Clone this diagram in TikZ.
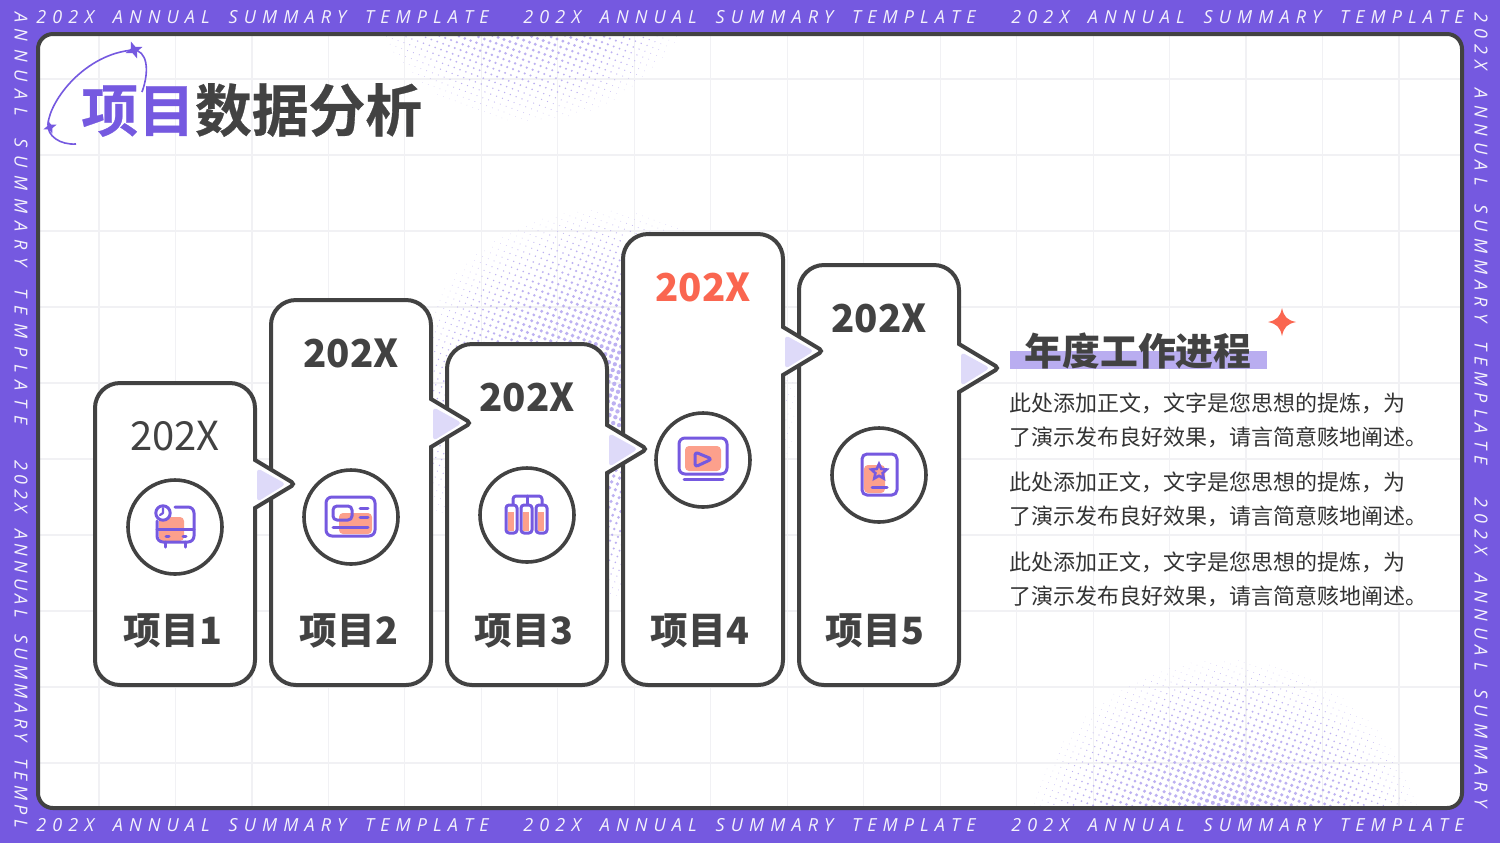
\documentclass[tikz,border=0pt]{standalone}
\usepackage{fontspec}
\usetikzlibrary{shapes.geometric}
\setmainfont{Noto Sans CJK SC}
\newfontfamily\bandfont[LetterSpace=34,WordSpace=1.75]{Open Sans}
\newfontfamily\bandwidefont[LetterSpace=44,WordSpace=1.75]{Open Sans}
\newfontfamily\bandtightfont[LetterSpace=25,WordSpace=1.75]{Open Sans}
\newfontfamily\headfont[UprightFont={* Bold},UprightFeatures={FakeBold=0.5}]{Noto Sans CJK SC}
\definecolor{bandpurple}{HTML}{7559E0}
\definecolor{inkgray}{HTML}{424242}
\definecolor{gridgray}{HTML}{F1F1F4}
\definecolor{dotpurple}{HTML}{BDB1F1}
\definecolor{tailpurple}{HTML}{DEDAF9}
\definecolor{barpurple}{HTML}{B9ADF0}
\definecolor{salmon}{HTML}{FCA08C}
\definecolor{accentred}{HTML}{FA6650}
\tikzset{
    cardbox/.style={draw=inkgray,fill=white,line width=2pt},
    iconring/.style={draw=inkgray,fill=white,line width=1.8pt,circle,minimum size=47pt,inner sep=0pt},
    iconline/.style={draw=bandpurple,line width=1.5pt,line cap=round,line join=round},
    iconfill/.style={fill=salmon,rounded corners=2pt},
    yearlabel/.style={font=\fontsize{19.2}{24}\bfseries,text=inkgray,inner sep=0pt},
    itemlabel/.style={font=\fontsize{18.8}{24}\bfseries,text=inkgray,inner sep=0pt},
    bodytext/.style={font=\fontsize{11}{17}\selectfont,text=black!80,align=left,anchor=west,inner sep=0pt},
    bandtext/.style={font=\bandfont\itshape\fontsize{9}{10}\selectfont,text=white!92!bandpurple,inner sep=0pt,anchor=west},
    bandwide/.style={bandtext,font=\bandwidefont\itshape\fontsize{9}{10}\selectfont},
    bandtight/.style={bandtext,font=\bandtightfont\itshape\fontsize{9}{10}\selectfont},
}
% one card with its tail: left, right, top, tip height
\newcommand{\card}[4]{
    \draw [cardbox] (#2,#4+24) [rounded corners=12.5pt] -- (#2,685) -- (#1,685) -- (#1,#3) -- (#2,#3) [sharp corners] -- (#2,#4-24) [rounded corners=2pt] -- (#2+40,#4) [sharp corners] -- (#2,#4+24) -- cycle;
    \fill [tailpurple,rounded corners=2pt] (#2+2,#4-16) -- (#2+31,#4) -- (#2+2,#4+18) -- cycle;
}
% halftone patch: centre x, centre y, radius; dots under the sheet edge or a card are left out
\newcommand{\halftone}[3]{
    \foreach \i in {-35,...,35} {
        \foreach \j in {-35,...,35} {
            \pgfmathsetmacro{\dotd}{6.2*veclen(\i,\j)/#3}
            \pgfmathsetmacro{\dotr}{1.1*(1-\dotd*\dotd)}
            \ifdim\dotr pt>0.1pt
                \pgfmathsetmacro{\px}{#1+6.2*(\i*cos(20)-\j*sin(20))}
                \pgfmathsetmacro{\py}{#2+6.2*(\i*sin(20)+\j*cos(20))}
                \pgfmathparse{(\py<33 || \py>809 || (\py<683 && ((\px>98 && \px<252 && \py>386) || (\px>274 && \px<428 && \py>303) || (\px>450 && \px<604 && \py>347) || (\px>626 && \px<780 && \py>237) || (\px>802 && \px<956 && \py>268)))) ? 1 : 0}
                \ifdim\pgfmathresult pt<0.5pt
                    \fill [dotpurple] (\px,\py) circle [radius=\dotr pt];
                \fi
            \fi
        }
    }
}
\begin{document}
\begin{tikzpicture}[x=0.5pt,y=-0.5pt]
    \useasboundingbox (0,0) rectangle (1500,843);
    \fill [bandpurple] (0,0) rectangle (1500,843);
    % band texts
    \foreach \sx in {36,523,1011} {
        \node [bandtext] (bandtop\sx) at (\sx,17) {202X ANNUAL SUMMARY TEMPLATE};
        \node [bandtext] (bandbot\sx) at (\sx,825) {202X ANNUAL SUMMARY TEMPLATE};
    }
    \node [bandwide,rotate=-90] (bandlefta) at (21,12) {A\kern3pt NNUAL SUMMARY TEMPLATE};
    \node [bandtight,rotate=-90] (bandleftb) at (21,460) {202X ANNUAL SUMMARY TEMPL};
    \node [bandtext,rotate=-90] (bandrighta) at (1481,12) {202X ANNUAL SUMMARY TEMPLATE};
    \node [bandtext,rotate=-90] (bandrightb) at (1481,497) {202X ANNUAL SUMMARY};
    % sheet
    \fill [white,rounded corners=7.5pt] (38,34) rectangle (1462,808);
    \begin{scope}
        \clip [rounded corners=7.5pt] (38,34) rectangle (1462,808);
        \foreach \k in {0,...,17} \draw [gridgray,line width=0.6pt] (99+76.47*\k,34) -- (99+76.47*\k,808);
        \foreach \k in {0,...,9} \draw [gridgray,line width=0.6pt] (38,79+76*\k) -- (1462,79+76*\k);
        \halftone{530}{-50}{180}
        \halftone{600}{405}{205}
        \halftone{1225}{860}{210}
    \end{scope}
    \draw [inkgray,line width=2pt,rounded corners=7.5pt] (38,34) rectangle (1462,808);
    % heading
    \draw [bandpurple,line width=0.8pt] (76,144) .. controls (60,145) and (47,136) .. (48,124) .. controls (50,100) and (85,54) .. (133,50) .. controls (147,50) and (150,70) .. (142,92);
    \node [star,star points=4,star point ratio=2.6,rotate=20,fill=bandpurple,inner sep=0pt,minimum size=9pt] (swirlstara) at (134,50) {};
    \node [star,star points=4,star point ratio=2.6,rotate=20,fill=bandpurple,inner sep=0pt,minimum size=7pt] (swirlstarb) at (50,127) {};
    \node [inner sep=0pt,anchor=west,font=\headfont\fontsize{28.4}{32}\selectfont] (heading) at (81,110) {\textcolor{bandpurple}{项目}\textcolor{inkgray}{数据分析}};
    % cards, last one first so that each tail lies on its neighbour
    \card{799}{959}{265}{368}
    \card{623}{783}{234}{351}
    \card{447}{607}{344}{449}
    \card{271}{431}{300}{423}
    \card{95}{255}{383}{484}
    \node [yearlabel,font=\fontsize{20}{24}\selectfont] (yeara) at (175,436) {202X};
    \node [yearlabel] (yearb) at (351,353) {202X};
    \node [yearlabel] (yearc) at (527,397) {202X};
    \node [yearlabel,text=accentred] (yeard) at (703,287) {202X};
    \node [yearlabel] (yeare) at (879,318) {202X};
    \node [itemlabel] (itema) at (173,631) {项目1};
    \node [itemlabel] (itemb) at (349,631) {项目2};
    \node [itemlabel] (itemc) at (524,631) {项目3};
    \node [itemlabel] (itemd) at (700,631) {项目4};
    \node [itemlabel] (iteme) at (875,631) {项目5};
    \node [iconring] (ringa) at (175,527) {};
    \node [iconring] (ringb) at (351,517) {};
    \node [iconring] (ringc) at (527,515) {};
    \node [iconring] (ringd) at (703,460) {};
    \node [iconring] (ringe) at (879,475) {};
    % icon 1
    \fill [iconfill] (159,541) -- (159,517) -- (184,517) -- (184,541) -- cycle;
    \draw [iconline,rounded corners=3pt] (175,507) -- (194,507) -- (194,542) -- (157,542) -- (157,521);
    \draw [iconline] (157,529) -- (194,529) (165,542) -- (165,547) (185,542) -- (185,547) (166,536) -- (169,536) (183,536) -- (186,536);
    \draw [iconline,fill=white] (163,513) circle [radius=3.6pt];
    \draw [iconline,line width=1.1pt] (163,508) -- (163,513) -- (160,515);
    % icon 2
    \fill [iconfill] (339,534) -- (339,513) -- (372,513) -- (372,534) -- cycle;
    \draw [iconline,rounded corners=3pt] (326,497) rectangle (375,536);
    \draw [iconline,rounded corners=2pt] (333,506) rectangle (352,520);
    \draw [iconline] (360,508) -- (368,508) (360,517) -- (368,517) (333,527) -- (368,527);
    % icon 3
    \foreach \rx in {506,521,536} {
        \fill [salmon] (\rx+2,512) rectangle (\rx+8,531);
        \draw [iconline,rounded corners=1.5pt] (\rx,505) rectangle (\rx+11,533);
    }
    \draw [iconline,rounded corners=1.5pt] (513,504) -- (513,496) -- (542,496) -- (542,504);
    \draw [iconline] (527,496) -- (527,504);
    % icon 4
    \fill [iconfill] (685,446) rectangle (721,471);
    \draw [iconline,rounded corners=3pt] (679,438) rectangle (727,474);
    \draw [iconline] (684,479) -- (723,479);
    \draw [iconline,rounded corners=1.5pt] (695,452) -- (712,459) -- (695,467) -- cycle;
    % icon 5
    \fill [iconfill] (864,465) rectangle (885,493);
    \draw [iconline,rounded corners=2.5pt] (862,454) rectangle (897,495);
    \draw [iconline] (872,487) -- (887,487);
    \node [star,star points=5,star point ratio=2.1,draw=bandpurple,line width=1.3pt,inner sep=0pt,minimum size=8pt] (iconstar) at (879,472) {};
    % text column
    \fill [barpurple] (1010,351) rectangle (1267,369);
    \node [font=\fontsize{18.9}{22}\bfseries,text=inkgray,inner sep=0pt] (coltitle) at (1138,351) {年度工作进程};
    \fill [accentred] (1282,308) .. controls (1284,317) and (1287,320) .. (1296,322) .. controls (1287,324) and (1284,327) .. (1282,336) .. controls (1280,327) and (1277,324) .. (1268,322) .. controls (1277,320) and (1280,317) .. (1282,308) -- cycle;
    \node [bodytext] (parta) at (1009,420) {此处添加正文，文字是您思想的提炼，为\\了演示发布良好效果，请言简意赅地阐述。};
    \node [bodytext] (partb) at (1009,499) {此处添加正文，文字是您思想的提炼，为\\了演示发布良好效果，请言简意赅地阐述。};
    \node [bodytext] (partc) at (1009,579) {此处添加正文，文字是您思想的提炼，为\\了演示发布良好效果，请言简意赅地阐述。};
\end{tikzpicture}
\end{document}
